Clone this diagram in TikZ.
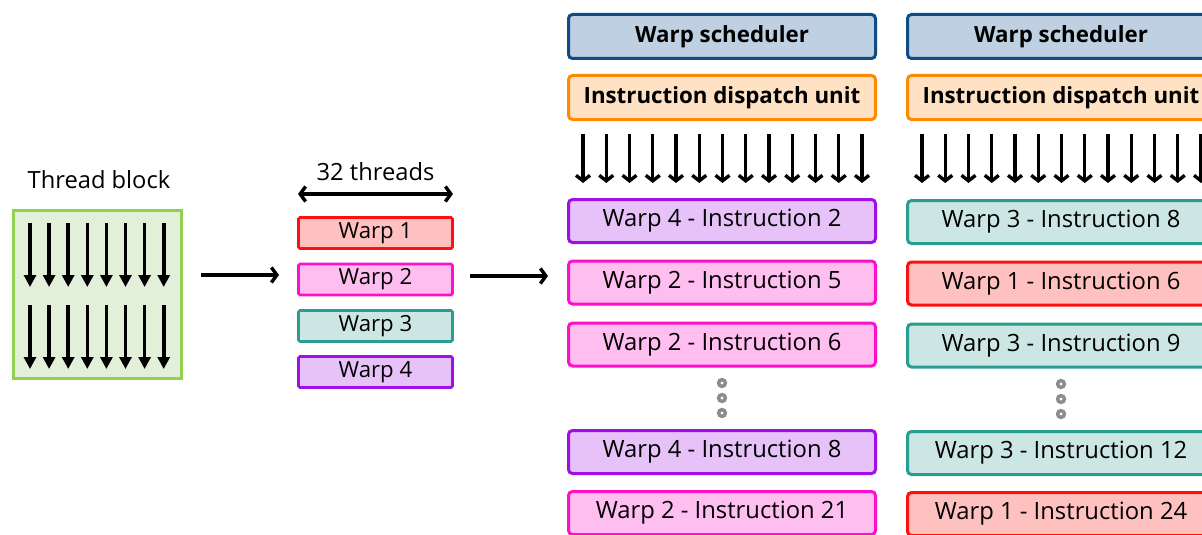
\documentclass[tikz,border=0pt]{standalone}
\usepackage{fontspec}
\setmainfont{Open Sans}
\usetikzlibrary{arrows.meta}

\definecolor{tbBorder}{HTML}{92D050}
\definecolor{tbFill}{HTML}{E2F0D9}
\definecolor{redBorder}{HTML}{FF1010}
\definecolor{redFill}{HTML}{FFC0C0}
\definecolor{pinkBorder}{HTML}{FF10C8}
\definecolor{pinkFill}{HTML}{FFBEF0}
\definecolor{tealBorder}{HTML}{2A9D93}
\definecolor{tealFill}{HTML}{CCE6E4}
\definecolor{purpleBorder}{HTML}{A010E6}
\definecolor{purpleFill}{HTML}{E6C2F8}
\definecolor{schedBorder}{HTML}{0E4C86}
\definecolor{schedFill}{HTML}{BED0E1}
\definecolor{dispBorder}{HTML}{FF8A00}
\definecolor{dispFill}{HTML}{FFE2C4}
\definecolor{dotGray}{HTML}{8C8C8C}

\begin{document}
\begin{tikzpicture}[x=1pt,y=-1pt,
  unitbox/.style={draw, line width=3pt, rounded corners=4pt, minimum width=307pt,
    minimum height=44pt, inner sep=0pt, font=\fontsize{22.3}{26}\selectfont\bfseries},
  instr/.style={draw, line width=3pt, rounded corners=4pt, minimum width=307pt,
    minimum height=43pt, inner sep=0pt, font=\fontsize{23.8}{27}\selectfont},
  warpbox/.style={draw, line width=2.6pt, rounded corners=1.5pt, minimum width=154pt,
    minimum height=31pt, inner sep=0pt, font=\fontsize{22.2}{25}\selectfont},
  w1/.style={draw=redBorder, fill=redFill},
  w2/.style={draw=pinkBorder, fill=pinkFill},
  w3/.style={draw=tealBorder, fill=tealFill},
  w4/.style={draw=purpleBorder, fill=purpleFill},
  thread/.style={line width=3.6pt, -{Triangle[width=12pt,length=12pt]}},
  feed/.style={line width=3.4pt, -{Straight Barb[length=5.5pt,width=14pt]}},
  flow/.style={line width=3.4pt, -{Straight Barb[length=5.5pt,width=15pt]}},
  span/.style={line width=3.4pt, {Straight Barb[length=5.5pt,width=15pt]}-{Straight Barb[length=5.5pt,width=15pt]}},
  ring/.style={draw=dotGray, fill=white, line width=3.4pt},
  label/.style={font=\fontsize{23.7}{27}\selectfont, inner sep=0pt}
]
\useasboundingbox (0,0) rectangle (1202,535);
\clip (0,0) rectangle (1202,535);

% ---- thread block ----
\node[label] (tblabel) at (99,180) {Thread block};
\node[draw=tbBorder, fill=tbFill, line width=3pt, minimum width=168pt, minimum height=168pt,
  inner sep=0pt] (tb) at (97.5,294.5) {};
\foreach \i in {0,...,7}{
  \draw[thread] (30+19.1*\i,223) -- (30+19.1*\i,287);
  \draw[thread] (30+19.1*\i,305) -- (30+19.1*\i,369);
}

% ---- warps ----
\node[label] (threads) at (375.5,172) {32 threads};
\coordinate (spanL) at (298,194);
\coordinate (spanR) at (453,194);
\draw[span] (spanL) -- (spanR);
\node[warpbox, w1] (warp1) at (375.5,233) {Warp 1};
\node[warpbox, w2] (warp2) at (375.5,279.5) {Warp 2};
\node[warpbox, w3] (warp3) at (375.5,326) {Warp 3};
\node[warpbox, w4] (warp4) at (375.5,372) {Warp 4};

\coordinate (f1s) at (201,275);
\coordinate (f1e) at (279,275);
\draw[flow] (f1s) -- (f1e);
\coordinate (f2s) at (470,276);
\coordinate (f2e) at (548,276);
\draw[flow] (f2s) -- (f2e);

% ---- scheduler columns ----
\foreach \cx/\dy/\c in {722/0/a, 1061/1/b}{
  \node[unitbox, draw=schedBorder, fill=schedFill] (sched\c) at (\cx,36.5) {Warp scheduler};
  \node[unitbox, draw=dispBorder, fill=dispFill] (disp\c) at (\cx,97.5) {Instruction dispatch unit};
  \foreach \i in {0,...,12}{
    \draw[feed] (\cx-139+23.25*\i,134) -- (\cx-139+23.25*\i,183);
  }
  \foreach \k in {0,1,2}{
    \draw[ring] (\cx,383+\dy+15*\k) circle (3.4pt);
  }
}

\node[instr, w4] (ia1) at (722,221)   {Warp 4 - Instruction 2};
\node[instr, w2] (ia2) at (722,282.5) {Warp 2 - Instruction 5};
\node[instr, w2] (ia3) at (722,344.5) {Warp 2 - Instruction 6};
\node[instr, w4] (ia4) at (722,452)   {Warp 4 - Instruction 8};
\node[instr, w2] (ia5) at (722,513)   {Warp 2 - Instruction 21};

\node[instr, w3] (ib1) at (1061,222)   {Warp 3 - Instruction 8};
\node[instr, w1] (ib2) at (1061,283.5) {Warp 1 - Instruction 6};
\node[instr, w3] (ib3) at (1061,345.5) {Warp 3 - Instruction 9};
\node[instr, w3] (ib4) at (1061,453)   {Warp 3 - Instruction 12};
\node[instr, w1] (ib5) at (1061,514)   {Warp 1 - Instruction 24};
\end{tikzpicture}
\end{document}
